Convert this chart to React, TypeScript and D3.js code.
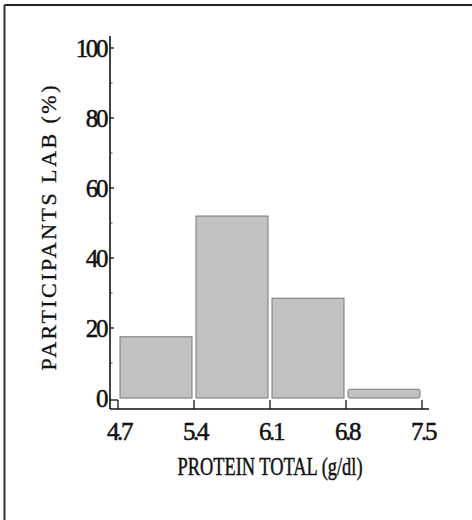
import React from "react";
import * as d3 from "d3";

const binEdges = [4.7, 5.4, 6.1, 6.8, 7.5];
const percentages = [17.5, 52, 28.5, 2.5];
const yTicks = [0, 20, 40, 60, 80, 100];
const yMinorTicks = [10, 30, 50, 70, 90];
const xTickLabels = ["4.7", "5.4", "6.1", "6.8", "7.5"];
const xTitle = "PROTEIN TOTAL (g/dl)";
const yTitle = "PARTICIPANTS LAB (%)";

export default function App() {
  const x = d3.scaleLinear().domain([4.7, 7.5]).range([118, 422]);
  const y = d3.scaleLinear().domain([0, 100]).range([398, 48]);
  const font = "'Liberation Serif', 'DejaVu Serif', serif";
  const bars = percentages.map((v, i) => ({ x0: binEdges[i], x1: binEdges[i + 1], v }));
  const axisY = 409;
  const axisX = 110;
  return (
    <svg width={472} height={520} style={{ position: "absolute", left: 0, top: 0, background: "#fff" }}>
      {/* frame */}
      <line x1={4.5} y1={5} x2={472} y2={5} stroke="#222" strokeWidth={2} />
      <line x1={4.5} y1={5} x2={4.5} y2={520} stroke="#333" strokeWidth={2} />

      {/* bars */}
      {bars.map((b, i) => (
        <rect
          key={i}
          x={x(b.x0) + 2}
          y={y(b.v)}
          width={x(b.x1) - x(b.x0) - 4}
          height={y(0) - y(b.v)}
          fill="#c2c2c2"
          stroke="#777"
          strokeWidth={1}
          rx={i === 3 ? 2 : 0}
        />
      ))}

      {/* y axis */}
      <line x1={axisX} y1={36} x2={axisX} y2={axisY} stroke="#111" strokeWidth={1.6} />
      {yTicks.map((t) => (
        <g key={t}>
          <line x1={axisX} x2={t === 0 ? x(4.7) : axisX + 4} y1={y(t) + (t === 0 ? 2 : 0)} y2={y(t) + (t === 0 ? 2 : 0)} stroke="#111" strokeWidth={1.3} />
          <text
            x={106}
            y={y(t)}
            dy="0.36em"
            textAnchor="end"
            fontFamily={font}
            fontSize={25}
            letterSpacing={-2.4}
            stroke="#111"
            strokeWidth={0.5}
            fill="#111"
          >
            {t}
          </text>
        </g>
      ))}
      {yMinorTicks.map((t) => (
        <line key={t} x1={axisX} x2={axisX + 2.5} y1={y(t)} y2={y(t)} stroke="#444" strokeWidth={1} />
      ))}

      {/* x axis */}
      <line x1={axisX} y1={axisY} x2={429} y2={axisY} stroke="#111" strokeWidth={1.6} />
      {binEdges.map((t, i) => (
        <g key={t}>
          <line x1={x(t)} x2={x(t)} y1={axisY} y2={y(0) + 2} stroke="#111" strokeWidth={1.3} />
          <text
            x={x(t) + 1}
            y={440}
            textAnchor="middle"
            fontFamily={font}
            fontSize={25}
            letterSpacing={-2.4}
            stroke="#111"
            strokeWidth={0.5}
            fill="#111"
          >
            {xTickLabels[i]}
          </text>
        </g>
      ))}

      {/* titles */}
      <text
        x={270}
        y={475}
        textAnchor="middle"
        fontFamily={font}
        fontSize={25}
        textLength={185}
        lengthAdjust="spacingAndGlyphs"
        stroke="#111"
        strokeWidth={0.45}
        fill="#111"
      >
        {xTitle}
      </text>
      <text
        transform={`translate(56, 228) rotate(-90)`}
        textAnchor="middle"
        fontFamily={font}
        fontSize={22}
        textLength={285}
        lengthAdjust="spacing"
        stroke="#111"
        strokeWidth={0.3}
        fill="#111"
      >
        {yTitle}
      </text>
    </svg>
  );
}
